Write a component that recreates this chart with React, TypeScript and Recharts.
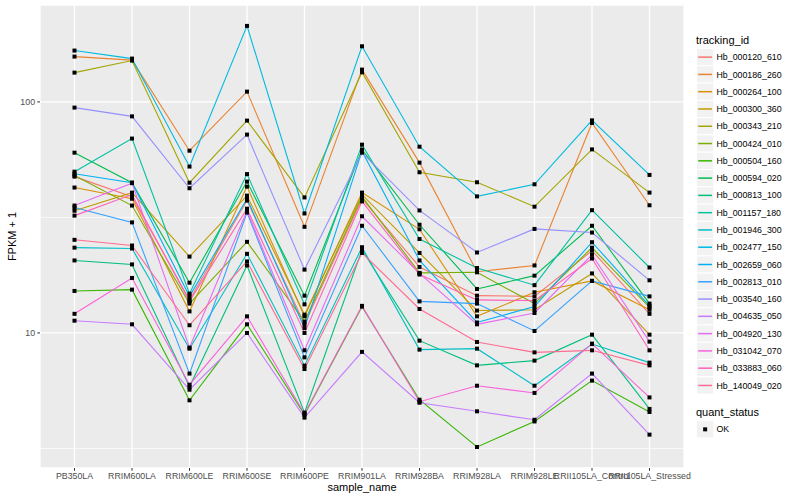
import React from 'react';
import { LineChart, Line, XAxis, YAxis, CartesianGrid } from 'recharts';

const samples = ['PB350LA', 'RRIM600LA', 'RRIM600LE', 'RRIM600SE', 'RRIM600PE', 'RRIM901LA', 'RRIM928BA', 'RRIM928LA', 'RRIM928LE', 'RRII105LA_Control', 'RRII105LA_Stressed'];

const hb_000120_610 = [47.5, 38.9, 13.9, 37.4, 10.9, 38.1, 19.3, 14.5, 14.4, 22.7, 12.1];
const hb_000186_260 = [157.1, 151.7, 61.5, 110.8, 28.8, 138.0, 54.6, 18.4, 19.6, 81.1, 35.7];
const hb_000264_100 = [42.6, 38.1, 12.4, 43.0, 11.8, 40.5, 28.1, 11.8, 15.0, 16.8, 12.6];
const hb_000300_360 = [33.8, 40.5, 21.4, 39.3, 12.0, 39.7, 22.2, 12.5, 12.6, 18.1, 9.83];
const hb_000343_210 = [133.9, 151.0, 44.7, 83.0, 38.6, 134.3, 49.6, 44.9, 35.2, 62.3, 40.5];
const hb_000424_010 = [48.0, 35.6, 13.4, 24.8, 11.2, 38.9, 18.2, 18.3, 13.4, 23.4, 12.9];
const hb_000504_160 = [15.2, 15.4, 5.11, 10.9, 4.43, 13.0, 5.14, 3.21, 4.14, 6.22, 4.55];
const hb_000594_020 = [60.3, 44.7, 16.5, 45.2, 14.5, 62.2, 29.4, 15.5, 17.7, 29.1, 13.4];
const hb_000813_100 = [20.6, 19.8, 5.85, 19.6, 4.52, 22.9, 9.26, 7.24, 7.59, 9.83, 4.69];
const hb_001157_180 = [49.9, 69.4, 14.8, 48.7, 13.3, 65.3, 25.5, 19.1, 16.1, 34.0, 19.2];
const hb_001946_300 = [23.4, 23.2, 8.55, 22.0, 7.22, 23.5, 8.47, 8.55, 5.91, 8.95, 7.44];
const hb_002477_150 = [166.8, 154.0, 52.5, 213.3, 32.9, 174.1, 64.0, 39.0, 44.0, 83.2, 48.3];
const hb_002659_060 = [48.9, 44.7, 14.4, 38.1, 10.5, 61.2, 20.6, 11.1, 13.0, 24.7, 13.1];
const hb_002813_010 = [34.9, 30.1, 6.67, 33.2, 7.84, 29.1, 13.7, 13.4, 10.2, 16.8, 14.4];
const hb_003540_160 = [94.5, 86.6, 42.3, 72.2, 18.8, 60.3, 33.9, 22.3, 28.2, 27.2, 16.9];
const hb_004635_050 = [11.3, 10.9, 5.68, 10.0, 4.30, 8.28, 4.99, 4.58, 4.21, 6.67, 3.63];
const hb_004920_130 = [35.6, 44.5, 8.64, 33.8, 8.41, 32.0, 18.1, 10.9, 12.2, 21.8, 9.17];
const hb_031042_070 = [12.1, 17.3, 5.97, 11.8, 4.47, 13.1, 5.04, 5.91, 5.50, 8.99, 5.26];
const hb_033883_060 = [32.2, 39.7, 13.7, 34.5, 10.0, 37.1, 17.9, 13.9, 13.8, 21.0, 8.41];
const hb_140049_020 = [25.3, 23.9, 10.8, 20.4, 6.98, 22.2, 12.7, 9.14, 8.24, 8.41, 7.24];

const trackingIds = ['Hb_000120_610', 'Hb_000186_260', 'Hb_000264_100', 'Hb_000300_360', 'Hb_000343_210', 'Hb_000424_010', 'Hb_000504_160', 'Hb_000594_020', 'Hb_000813_100', 'Hb_001157_180', 'Hb_001946_300', 'Hb_002477_150', 'Hb_002659_060', 'Hb_002813_010', 'Hb_003540_160', 'Hb_004635_050', 'Hb_004920_130', 'Hb_031042_070', 'Hb_033883_060', 'Hb_140049_020'];

const seriesValues = [hb_000120_610, hb_000186_260, hb_000264_100, hb_000300_360, hb_000343_210, hb_000424_010, hb_000504_160, hb_000594_020, hb_000813_100, hb_001157_180, hb_001946_300, hb_002477_150, hb_002659_060, hb_002813_010, hb_003540_160, hb_004635_050, hb_004920_130, hb_031042_070, hb_033883_060, hb_140049_020];

const colors = ['#F8766D', '#EA8331', '#D89000', '#C09B00', '#A3A500', '#7CAE00', '#39B600', '#00BB4E', '#00BF7D', '#00C1A3', '#00BFC4', '#00BAE0', '#00B0F6', '#35A2FF', '#9590FF', '#C77CFF', '#E76BF3', '#FA62DB', '#FF62BC', '#FF6C91'];

const yTicks = [10, 100];
const yMinor = [3.1623, 31.623];
const yDomain = [2.603, 262.7];
const quantStatus = ['OK'];

const data = samples.map((s, i) => {
  const row: Record<string, any> = { sample: s };
  trackingIds.forEach((id, k) => {
    row[id] = seriesValues[k][i];
  });
  return row;
});

const FONT = '"Liberation Sans", Arial, Helvetica, sans-serif';

const SquareDot = (props: any) => {
  const { cx, cy, key } = props;
  if (cx == null || cy == null) return <g key={key} />;
  return <rect key={key} x={cx - 2} y={cy - 2} width={4} height={4} fill="#000000" />;
};

const XTitle = (props: any) => {
  const vb = props.viewBox || { x: 40, y: 468, width: 644, height: 31 };
  return (
    <text x={vb.x + vb.width / 2} y={vb.y + 23} textAnchor="middle" fontSize={11} fill="#000" fontFamily={FONT}>
      sample_name
    </text>
  );
};

const YTitle = (props: any) => {
  const vb = props.viewBox || { x: 0, y: 5, width: 40, height: 463 };
  const cx = vb.x + 12;
  const cy = vb.y + vb.height / 2;
  return (
    <text x={cx} y={cy} dy="0.35em" textAnchor="middle" fontSize={11} fill="#000" fontFamily={FONT} transform={`rotate(-90 ${cx} ${cy})`}>
      FPKM + 1
    </text>
  );
};

const LegendOverlay = () => {
  const left = 696.5;
  const keySize = 17.28;
  const firstTop = 48.5;
  const qTop = 420.7;
  return (
    <svg width={800} height={500} style={{ position: 'absolute', left: 0, top: 0, pointerEvents: 'none' }}>
      <text x={left - 0.5} y={43.5} fontSize={11} fill="#000" fontFamily={FONT}>tracking_id</text>
      {trackingIds.map((id, i) => {
        const top = firstTop + i * keySize;
        return (
          <g key={id}>
            <rect x={left} y={top} width={keySize} height={keySize} fill="#F2F2F2" stroke="#FFFFFF" strokeWidth={1} />
            <line x1={left + 1.7} x2={left + keySize - 1.7} y1={top + keySize / 2} y2={top + keySize / 2} stroke={colors[i]} strokeWidth={1.5} />
            <text x={left + keySize + 2.75} y={top + keySize / 2} dy="0.35em" fontSize={8.8} fill="#000" fontFamily={FONT}>{id}</text>
          </g>
        );
      })}
      <text x={left - 0.5} y={416} fontSize={11} fill="#000" fontFamily={FONT}>quant_status</text>
      {quantStatus.map((q, i) => {
        const top = qTop + i * keySize;
        return (
          <g key={q}>
            <rect x={left} y={top} width={keySize} height={keySize} fill="#F2F2F2" stroke="#FFFFFF" strokeWidth={1} />
            <rect x={left + keySize / 2 - 2} y={top + keySize / 2 - 2} width={4} height={4} fill="#000" />
            <text x={left + keySize + 2.75} y={top + keySize / 2} dy="0.35em" fontSize={8.8} fill="#000" fontFamily={FONT}>{q}</text>
          </g>
        );
      })}
    </svg>
  );
};

export default function App() {
  return (
    <div style={{ position: 'absolute', left: 0, top: 0, width: 800, height: 500, background: '#FFFFFF', fontFamily: FONT }}>
      <LineChart width={800} height={500} data={data} margin={{ top: 5, right: 116, bottom: 1, left: 0 }}>
        <CartesianGrid fill="#EBEBEB" stroke="#FFFFFF" strokeWidth={1.3} />
        <CartesianGrid fill="none" stroke="#FFFFFF" strokeWidth={0.7} vertical={false} horizontalValues={yMinor} />
        <XAxis
          dataKey="sample"
          interval={0}
          padding={{ left: 34.5, right: 34.5 }}
          axisLine={false}
          tickLine={{ stroke: '#333333' }}
          tickSize={2.75}
          tickMargin={2.2}
          tick={{ fontSize: 8.8, fill: '#4D4D4D', fontFamily: FONT }}
          height={31}
          label={<XTitle />}
        />
        <YAxis
          scale="log"
          domain={yDomain}
          allowDataOverflow
          ticks={yTicks}
          axisLine={false}
          tickLine={{ stroke: '#333333' }}
          tickSize={2.75}
          tickMargin={2.2}
          tick={{ fontSize: 8.8, fill: '#4D4D4D', fontFamily: FONT }}
          width={40}
          label={<YTitle />}
        />
        {trackingIds.map((id, k) => (
          <Line key={id} type="linear" dataKey={id} stroke={colors[k]} strokeWidth={1.1} dot={false} activeDot={false} isAnimationActive={false} />
        ))}
        {trackingIds.map((id) => (
          <Line key={id + '_pt'} type="linear" dataKey={id} stroke="transparent" strokeWidth={0} dot={SquareDot} activeDot={false} legendType="none" isAnimationActive={false} />
        ))}
      </LineChart>
      <LegendOverlay />
    </div>
  );
}
